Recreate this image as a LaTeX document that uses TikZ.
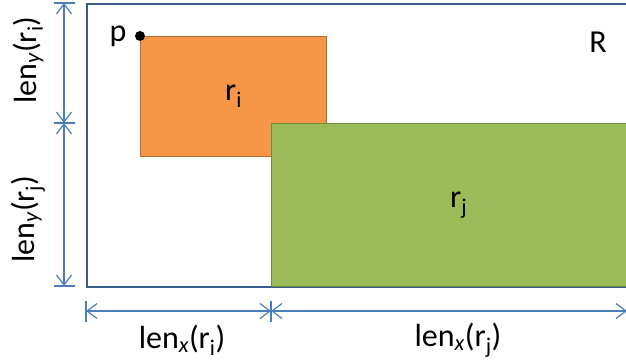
\documentclass[tikz,border=0pt]{standalone}
\usepackage{fontspec}
\setmainfont{Carlito}
\usetikzlibrary{arrows.meta}

\definecolor{dimblue}{HTML}{4A7EBB}
\definecolor{boxblue}{HTML}{385D8A}
\definecolor{rifill}{HTML}{F79646}
\definecolor{riedge}{HTML}{B66D31}
\definecolor{rjfill}{HTML}{9BBB59}
\definecolor{rjedge}{HTML}{71893F}

\newcommand{\lenlbl}[2]{len\textsubscript{\itshape #1}(r\textsubscript{#2})}

\begin{document}
\begin{tikzpicture}[x=1pt, y=-1pt,
    lbl/.style={font=\fontsize{32}{36}\selectfont, inner sep=0pt},
    rect/.style={line width=1.2pt, inner sep=0pt, anchor=north west, font=\fontsize{32}{36}\selectfont},
    dim/.style={draw=dimblue, line width=1.2pt,
      {Straight Barb[length=10pt,width=15pt]}-{Straight Barb[length=10pt,width=15pt]}},
    tick/.style={draw=dimblue, line width=1.2pt}]

    \clip (0,0) rectangle (626,363);

    % Region R
    \node[rect, draw=boxblue, line width=1.6pt, minimum width=560pt, minimum height=283pt] (R) at (86,3) {};
    \node[lbl] (Rlbl) at (598,42) {R};

    % Rectangles r_i and r_j
    \node[rect, draw=riedge, fill=rifill, minimum width=186pt, minimum height=120pt] (ri) at (140,36) {r\textsubscript{i}};
    \node[rect, draw=rjedge, fill=rjfill, minimum width=374pt, minimum height=163pt] (rj) at (271,123) {r\textsubscript{j}};
    \draw[boxblue, line width=1.6pt] (R.south west) -- (R.south east);

    % Point p
    \fill (ri.north west) circle[radius=5pt];
    \node[lbl, anchor=base] (p) at (118,42) {p};

    % Dimension ticks
    \coordinate (y0) at (64,3);
    \coordinate (y1) at (64,123);
    \coordinate (y2) at (64,286);
    \coordinate (x0) at (86,311);
    \coordinate (x1) at (271,311);
    \coordinate (x2) at (627,311);
    \foreach \c in {y0,y1,y2}
      \draw[tick] ([xshift=-10pt]\c) -- ([xshift=11pt]\c);
    \foreach \c in {x0,x1}
      \draw[tick] ([yshift=-11pt]\c) -- ([yshift=10pt]\c);

    % Dimension lines
    \draw[dim] (y0) -- (y1);
    \draw[dim] (y1) -- (y2);
    \draw[dim] (x0) -- (x1);
    \draw[dim] (x1) -- (x2);

    % Dimension labels
    \node[lbl, rotate=90] (lyi) at (28,60) {\lenlbl{y}{i}};
    \node[lbl, rotate=90] (lyj) at (28,219) {\lenlbl{y}{j}};
    \node[lbl] (lxi) at (182,340) {\lenlbl{x}{i}};
    \node[lbl] (lxj) at (458,340) {\lenlbl{x}{j}};

\end{tikzpicture}
\end{document}
